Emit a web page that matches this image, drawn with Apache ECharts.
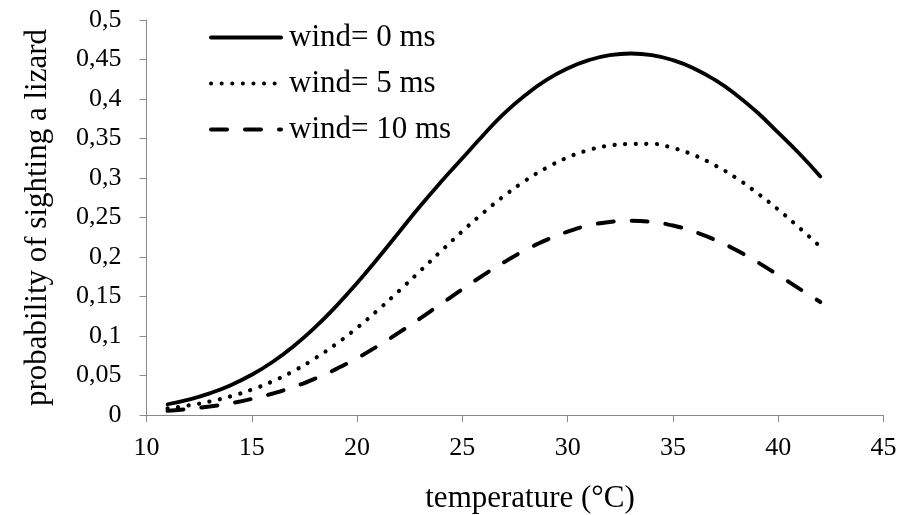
<!DOCTYPE html>
<html>
<head>
<meta charset="utf-8">
<script src="https://cdn.jsdelivr.net/npm/echarts@6/dist/echarts.min.js"></script>
<style>
  html, body { margin: 0; padding: 0; background: #fff; }
  #main { width: 915px; height: 515px; }
</style>
</head>
<body>
<div id="main"></div>
<script>
// temperature (°C)
var temps = [11, 12, 13, 14, 15, 16, 17, 18, 19, 20, 21, 22, 23, 24, 25, 26,
    27, 28, 29, 30, 31, 32, 33, 34, 35, 36, 37, 38, 39, 40, 41, 42];
var wind0 = [0.0136, 0.0195, 0.0274, 0.0377, 0.0510, 0.0674, 0.0874, 0.1108,
    0.1375, 0.1671, 0.1988, 0.2317, 0.2645, 0.2955, 0.3250, 0.3545, 0.3820,
    0.4050, 0.4241, 0.4387, 0.4492, 0.4555, 0.4576, 0.4555, 0.4492, 0.4387,
    0.4241, 0.4055, 0.3832, 0.3574, 0.3310, 0.3020];
var wind5 = [0.0085, 0.0121, 0.0171, 0.0237, 0.0322, 0.0428, 0.0559, 0.0716,
    0.0898, 0.1104, 0.1331, 0.1573, 0.1824, 0.2078, 0.2326, 0.2561, 0.2777,
    0.2968, 0.3130, 0.3260, 0.3354, 0.3411, 0.3430, 0.3432, 0.3380, 0.3290,
    0.3160, 0.3000, 0.2810, 0.2600, 0.2370, 0.2130];
var wind10 = [0.0053, 0.0076, 0.0108, 0.0149, 0.0204, 0.0272, 0.0357, 0.0460,
    0.0581, 0.0720, 0.0876, 0.1045, 0.1224, 0.1408, 0.1592, 0.1771, 0.1937,
    0.2088, 0.2217, 0.2321, 0.2398, 0.2444, 0.2460, 0.2444, 0.2398, 0.2321,
    0.2217, 0.2088, 0.1937, 0.1771, 0.1600, 0.1430];
var seriesNames = ['wind= 0 ms', 'wind= 5 ms', 'wind= 10 ms'];

var FONT = '"Liberation Serif", "Times New Roman", serif';
var AXIS = '#898989';

function pairs(vals) {
    return temps.map(function (t, i) { return [t, vals[i]]; });
}

var myChart = echarts.init(document.getElementById('main'));

var option = {
    backgroundColor: '#fff',
    animation: false,
    textStyle: { fontFamily: FONT, color: '#000' },
    grid: {
        left: 146.5,
        right: 31.5,
        top: 20,
        bottom: 100,
        containLabel: false,
        outerBoundsMode: 'none'
    },
    legend: {
        orient: 'vertical',
        left: 204,
        top: 17,
        itemWidth: 70,
        itemHeight: 14,
        itemGap: 15,
        // hide the symbol in the middle of the legend line
        itemStyle: { color: 'transparent', borderColor: 'transparent', borderWidth: 0 },
        lineStyle: { width: 4, cap: 'round' },
        textStyle: {
            fontFamily: FONT, fontSize: 31, color: '#000', lineHeight: 31,
            padding: [0, 0, 0, 3]
        },
        data: seriesNames
    },
    xAxis: {
        type: 'value',
        min: 10,
        max: 45,
        interval: 5,
        name: 'temperature (°C)',
        nameLocation: 'middle',
        nameGap: 68,
        nameTextStyle: { fontFamily: FONT, fontSize: 31, color: '#000', padding: [0, 0, 0, 30] },
        axisLine: { lineStyle: { color: AXIS, width: 1 } },
        axisTick: { show: true, length: 7, inside: false, lineStyle: { color: AXIS } },
        axisLabel: { fontFamily: FONT, fontSize: 26, color: '#000', margin: 20 },
        splitLine: { show: false }
    },
    yAxis: {
        type: 'value',
        min: 0,
        max: 0.5,
        interval: 0.05,
        name: 'probability of sighting a lizard',
        nameLocation: 'middle',
        nameGap: 93,
        nameTextStyle: { fontFamily: FONT, fontSize: 31, color: '#000' },
        axisLine: { show: true, lineStyle: { color: AXIS, width: 1 } },
        axisTick: { show: true, length: 7, inside: false, lineStyle: { color: AXIS } },
        axisLabel: {
            fontFamily: FONT,
            fontSize: 26,
            color: '#000',
            margin: 25,
            formatter: function (v) {
                return String(+v.toFixed(2)).replace('.', ',');
            }
        },
        splitLine: { show: false }
    },
    series: [{
        name: seriesNames[0],
        type: 'line',
        data: pairs(wind0),
        smooth: true,
        symbol: 'none',
        color: '#000',
        lineStyle: { color: '#000', width: 3.8, cap: 'round' }
    }, {
        name: seriesNames[1],
        type: 'line',
        data: pairs(wind5),
        smooth: true,
        symbol: 'none',
        color: '#000',
        lineStyle: { color: '#000', width: 4.2, type: [0.1, 10.5], cap: 'round' }
    }, {
        name: seriesNames[2],
        type: 'line',
        data: pairs(wind10),
        smooth: true,
        symbol: 'none',
        color: '#000',
        lineStyle: { color: '#000', width: 4, type: [16, 18], cap: 'round' }
    }]
};

myChart.setOption(option);
</script>
</body>
</html>
